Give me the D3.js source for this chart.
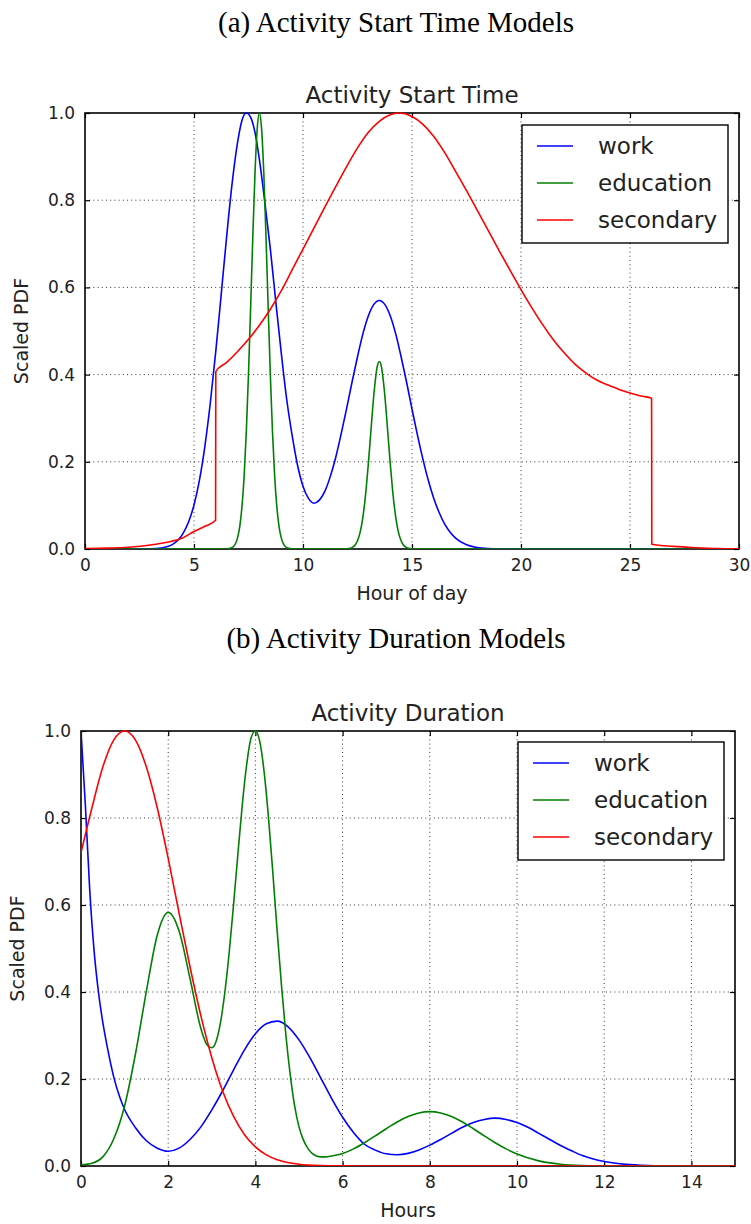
<!DOCTYPE html>
<html>
<head>
<meta charset="utf-8">
<script src="https://cdn.jsdelivr.net/npm/d3@7"></script>
<style>
  html, body { margin: 0; padding: 0; background: #fff; }
  svg { display: block; }
  .tick text { font-family: "DejaVu Sans", sans-serif; }
</style>
</head>
<body>
<svg id="fig" width="751" height="1224"></svg>
<script>
// ---- Activity start time (hour of day, scaled PDF) ----
const startWork = [[0,0],[2,0],[3,0.0005],[3.5,0.0024],[4,0.010],[4.5,0.036],[4.75,0.062],[5,0.101],[5.25,0.158],[5.5,0.236],[5.75,0.336],[6,0.454],[6.25,0.585],[6.5,0.718],[6.75,0.839],[7,0.933],[7.2,0.983],[7.4,1.0],[7.6,0.99],[7.8,0.955],[8,0.893],[8.25,0.795],[8.5,0.689],[8.75,0.568],[9,0.451],[9.25,0.344],[9.5,0.261],[9.75,0.192],[10,0.144],[10.25,0.116],[10.5,0.105],[10.75,0.112],[11,0.132],[11.25,0.166],[11.5,0.210],[11.75,0.264],[12,0.322],[12.25,0.383],[12.5,0.441],[12.75,0.494],[13,0.535],[13.25,0.561],[13.5,0.570],[13.75,0.561],[14,0.535],[14.25,0.494],[14.5,0.441],[14.75,0.383],[15,0.321],[15.25,0.261],[15.5,0.206],[15.75,0.157],[16,0.116],[16.25,0.083],[16.5,0.057],[16.75,0.0385],[17,0.025],[17.5,0.0096],[18,0.0033],[18.5,0.001],[19,0.0003],[20,0],[30,0]];

const startEdu = [[0,0],[6.4,0],[6.6,0.0008],[6.7,0.0021],[6.8,0.0052],[6.9,0.0121],[7.0,0.026],[7.1,0.052],[7.2,0.097],[7.3,0.167],[7.4,0.269],[7.5,0.402],[7.6,0.558],[7.7,0.720],[7.8,0.864],[7.9,0.964],[8.0,1.0],[8.1,0.964],[8.2,0.864],[8.3,0.720],[8.4,0.558],[8.5,0.402],[8.6,0.269],[8.7,0.167],[8.8,0.097],[8.9,0.052],[9.0,0.026],[9.1,0.0121],[9.2,0.0052],[9.3,0.0021],[9.4,0.0008],[9.6,0],[11.9,0],[12.1,0.0009],[12.3,0.0048],[12.4,0.0098],[12.5,0.019],[12.6,0.034],[12.7,0.058],[12.8,0.093],[12.9,0.140],[13.0,0.197],[13.1,0.261],[13.2,0.325],[13.3,0.379],[13.4,0.417],[13.5,0.430],[13.6,0.417],[13.7,0.379],[13.8,0.325],[13.9,0.261],[14.0,0.197],[14.1,0.140],[14.2,0.093],[14.3,0.058],[14.4,0.034],[14.5,0.019],[14.6,0.0098],[14.7,0.0048],[14.9,0.0009],[15.1,0],[30,0]];

const startSecondary = [[0,0.001],[1,0.002],[2,0.004],[3,0.009],[3.5,0.013],[4,0.018],[4.5,0.026],[5,0.040],[5.5,0.052],[5.99,0.066],[6,0.407],[6.5,0.428],[7,0.453],[7.5,0.481],[8,0.513],[8.5,0.550],[9,0.592],[9.5,0.640],[10,0.688],[10.5,0.736],[11,0.784],[11.5,0.831],[12,0.877],[12.5,0.920],[13,0.956],[13.5,0.981],[14,0.996],[14.4,1.0],[15,0.992],[15.5,0.974],[16,0.946],[16.5,0.909],[17,0.866],[17.5,0.822],[18,0.776],[18.5,0.730],[19,0.684],[19.5,0.639],[20,0.595],[20.5,0.553],[21,0.514],[21.5,0.479],[22,0.449],[22.5,0.423],[23,0.403],[23.5,0.387],[24,0.376],[24.5,0.366],[25,0.358],[25.5,0.351],[25.99,0.346],[26,0.011],[27,0.006],[28,0.003],[29,0.001],[30,0.0005]];

// ---- Activity duration (hours, scaled PDF) ----
const durWork = [[0,1.0],[0.1,0.83],[0.2,0.635],[0.3,0.495],[0.4,0.40],[0.5,0.33],[0.6,0.275],[0.75,0.205],[0.9,0.155],[1.0,0.13],[1.25,0.088],[1.5,0.058],[1.75,0.041],[2.0,0.034],[2.25,0.041],[2.5,0.061],[2.75,0.090],[3.0,0.129],[3.25,0.173],[3.5,0.221],[3.75,0.267],[4.0,0.304],[4.25,0.327],[4.5,0.333],[4.75,0.320],[5.0,0.290],[5.25,0.249],[5.5,0.202],[5.75,0.155],[6.0,0.112],[6.25,0.077],[6.5,0.050],[6.75,0.0365],[7.0,0.028],[7.25,0.026],[7.5,0.029],[7.75,0.037],[8.0,0.048],[8.25,0.061],[8.5,0.075],[8.75,0.089],[9.0,0.100],[9.25,0.107],[9.5,0.110],[9.75,0.107],[10.0,0.100],[10.25,0.089],[10.5,0.075],[10.75,0.061],[11.0,0.047],[11.25,0.035],[11.5,0.024],[11.75,0.016],[12.0,0.0104],[12.5,0.0037],[13.0,0.0011],[13.5,0.0003],[14,0],[15,0]];

const durEdu = [[0,0.003],[0.25,0.0065],[0.5,0.021],[0.75,0.062],[1.0,0.138],[1.25,0.258],[1.5,0.402],[1.75,0.531],[2.0,0.583],[2.25,0.540],[2.5,0.431],[2.75,0.316],[2.9,0.277],[3.0,0.272],[3.1,0.287],[3.2,0.330],[3.3,0.40],[3.4,0.492],[3.5,0.602],[3.6,0.719],[3.7,0.831],[3.8,0.923],[3.9,0.984],[4.0,1.0],[4.1,0.976],[4.2,0.906],[4.3,0.801],[4.4,0.674],[4.5,0.539],[4.6,0.413],[4.7,0.300],[4.8,0.209],[4.9,0.138],[5.0,0.090],[5.1,0.060],[5.2,0.041],[5.3,0.029],[5.4,0.023],[5.5,0.021],[5.6,0.021],[5.75,0.023],[6.0,0.0285],[6.25,0.0393],[6.5,0.0534],[6.75,0.0694],[7.0,0.0856],[7.25,0.101],[7.5,0.1137],[7.75,0.122],[8.0,0.125],[8.25,0.122],[8.5,0.1137],[8.75,0.101],[9.0,0.0856],[9.25,0.0694],[9.5,0.0534],[9.75,0.0393],[10.0,0.0275],[10.5,0.0118],[11.0,0.0042],[11.5,0.0012],[12.0,0.0003],[12.5,0],[15,0]];

const durSecondary = [[0,0.72],[0.25,0.823],[0.5,0.917],[0.75,0.979],[1.0,1.0],[1.25,0.979],[1.5,0.917],[1.75,0.823],[2.0,0.707],[2.25,0.581],[2.5,0.458],[2.75,0.345],[3.0,0.249],[3.25,0.172],[3.5,0.114],[3.75,0.072],[4.0,0.044],[4.25,0.0255],[4.5,0.0142],[5.0,0.0039],[5.5,0.0009],[6.0,0.0002],[6.5,0],[15,0]];

// ---- labels and ticks ----
const seriesNames = ["work", "education", "secondary"];
const seriesColors = ["#0000ff", "#008000", "#ff0000"];
const startXTicks = [0, 5, 10, 15, 20, 25, 30];
const durXTicks = [0, 2, 4, 6, 8, 10, 12, 14];
const yTicks = [0.0, 0.2, 0.4, 0.6, 0.8, 1.0];

const svg = d3.select("#fig");
svg.append("rect").attr("width", 751).attr("height", 1224).attr("fill", "#fff");

function drawPanel(cfg) {
  const {caption, captionY, title, xLabel, xDomain, xTicks, box, series, legendBox, clipId} = cfg;
  const x = d3.scaleLinear().domain(xDomain).range([box.left, box.right]);
  const y = d3.scaleLinear().domain([0, 1]).range([box.bottom, box.top]);
  const g = svg.append("g");

  // subfigure caption
  svg.append("text")
    .attr("x", 396).attr("y", captionY)
    .attr("text-anchor", "middle")
    .attr("font-family", "'Liberation Serif', 'Times New Roman', serif")
    .attr("font-size", 29)
    .attr("fill", "#000")
    .text(caption);

  // dotted grid
  g.append("g").selectAll("line.gx").data(xTicks.filter(t => t > xDomain[0] && t < xDomain[1]))
    .join("line")
    .attr("x1", d => x(d)).attr("x2", d => x(d))
    .attr("y1", box.top).attr("y2", box.bottom)
    .attr("stroke", "#000").attr("stroke-width", 0.8)
    .attr("stroke-dasharray", "1,3.2");
  g.append("g").selectAll("line.gy").data(yTicks.filter(t => t > 0 && t < 1))
    .join("line")
    .attr("x1", box.left).attr("x2", box.right)
    .attr("y1", d => y(d)).attr("y2", d => y(d))
    .attr("stroke", "#000").attr("stroke-width", 0.8)
    .attr("stroke-dasharray", "1,3.2");

  // axes with inward ticks on all four sides
  const fontTick = 17;
  const xb = g.append("g").attr("transform", `translate(0,${box.bottom})`)
    .call(d3.axisBottom(x).tickValues(xTicks).tickSize(-5).tickPadding(10).tickFormat(d3.format("d")));
  const xt = g.append("g").attr("transform", `translate(0,${box.top})`)
    .call(d3.axisTop(x).tickValues(xTicks).tickSize(-5).tickFormat(""));
  const yl = g.append("g").attr("transform", `translate(${box.left},0)`)
    .call(d3.axisLeft(y).tickValues(yTicks).tickSize(-5).tickPadding(10).tickFormat(d3.format(".1f")));
  const yr = g.append("g").attr("transform", `translate(${box.right},0)`)
    .call(d3.axisRight(y).tickValues(yTicks).tickSize(-5).tickFormat(""));
  [xb, xt, yl, yr].forEach(a => {
    a.select(".domain").remove();
    a.selectAll(".tick line").attr("stroke", "#000").attr("stroke-width", 1.2);
    a.selectAll(".tick text").attr("font-size", fontTick).attr("fill", "#222");
  });

  // frame
  g.append("rect")
    .attr("x", box.left).attr("y", box.top)
    .attr("width", box.right - box.left).attr("height", box.bottom - box.top)
    .attr("fill", "none").attr("stroke", "#000").attr("stroke-width", 1.6);

  // curves
  svg.append("clipPath").attr("id", clipId).append("rect")
    .attr("x", box.left).attr("y", box.top - 1)
    .attr("width", box.right - box.left).attr("height", box.bottom - box.top + 1);
  const line = d3.line().x(d => x(d[0])).y(d => y(d[1])).curve(d3.curveMonotoneX);
  const lg = g.append("g").attr("clip-path", `url(#${clipId})`);
  series.forEach((s, i) => {
    lg.append("path").datum(s)
      .attr("d", line)
      .attr("fill", "none")
      .attr("stroke", seriesColors[i])
      .attr("stroke-width", 1.6)
      .attr("stroke-linejoin", "round");
  });

  // title and axis labels
  g.append("text")
    .attr("x", (box.left + box.right) / 2).attr("y", box.top - 10)
    .attr("text-anchor", "middle")
    .attr("font-family", "'DejaVu Sans', sans-serif")
    .attr("font-size", 23).attr("fill", "#222")
    .text(title);
  g.append("text")
    .attr("x", (box.left + box.right) / 2).attr("y", box.bottom + 51)
    .attr("text-anchor", "middle")
    .attr("font-family", "'DejaVu Sans', sans-serif")
    .attr("font-size", 19).attr("fill", "#222")
    .text(xLabel);
  g.append("text")
    .attr("transform", `translate(${box.left - 57},${(box.top + box.bottom) / 2}) rotate(-90)`)
    .attr("text-anchor", "middle")
    .attr("font-family", "'DejaVu Sans', sans-serif")
    .attr("font-size", 19).attr("fill", "#222")
    .text("Scaled PDF");

  // legend
  const lgd = g.append("g");
  lgd.append("rect")
    .attr("x", legendBox.x).attr("y", legendBox.y)
    .attr("width", legendBox.w).attr("height", legendBox.h)
    .attr("fill", "#fff").attr("stroke", "#000").attr("stroke-width", 1.4);
  seriesNames.forEach((name, i) => {
    const yy = legendBox.y + 21 + i * 37;
    lgd.append("line")
      .attr("x1", legendBox.x + 15).attr("x2", legendBox.x + 51)
      .attr("y1", yy).attr("y2", yy)
      .attr("stroke", seriesColors[i]).attr("stroke-width", 1.6);
    lgd.append("text")
      .attr("x", legendBox.x + 76).attr("y", yy + 8)
      .attr("font-family", "'DejaVu Sans', sans-serif")
      .attr("font-size", 23).attr("fill", "#222")
      .text(name);
  });
}

drawPanel({
  caption: "(a) Activity Start Time Models",
  captionY: 32,
  title: "Activity Start Time",
  xLabel: "Hour of day",
  xDomain: [0, 30],
  xTicks: startXTicks,
  box: {left: 85, right: 739, top: 113, bottom: 549},
  series: [startWork, startEdu, startSecondary],
  legendBox: {x: 522, y: 125, w: 206, h: 118},
  clipId: "clipStart"
});

drawPanel({
  caption: "(b) Activity Duration Models",
  captionY: 648,
  title: "Activity Duration",
  xLabel: "Hours",
  xDomain: [0, 15],
  xTicks: durXTicks,
  box: {left: 81, right: 735, top: 731, bottom: 1166},
  series: [durWork, durEdu, durSecondary],
  legendBox: {x: 518, y: 742, w: 206, h: 118},
  clipId: "clipDur"
});
</script>
</body>
</html>
